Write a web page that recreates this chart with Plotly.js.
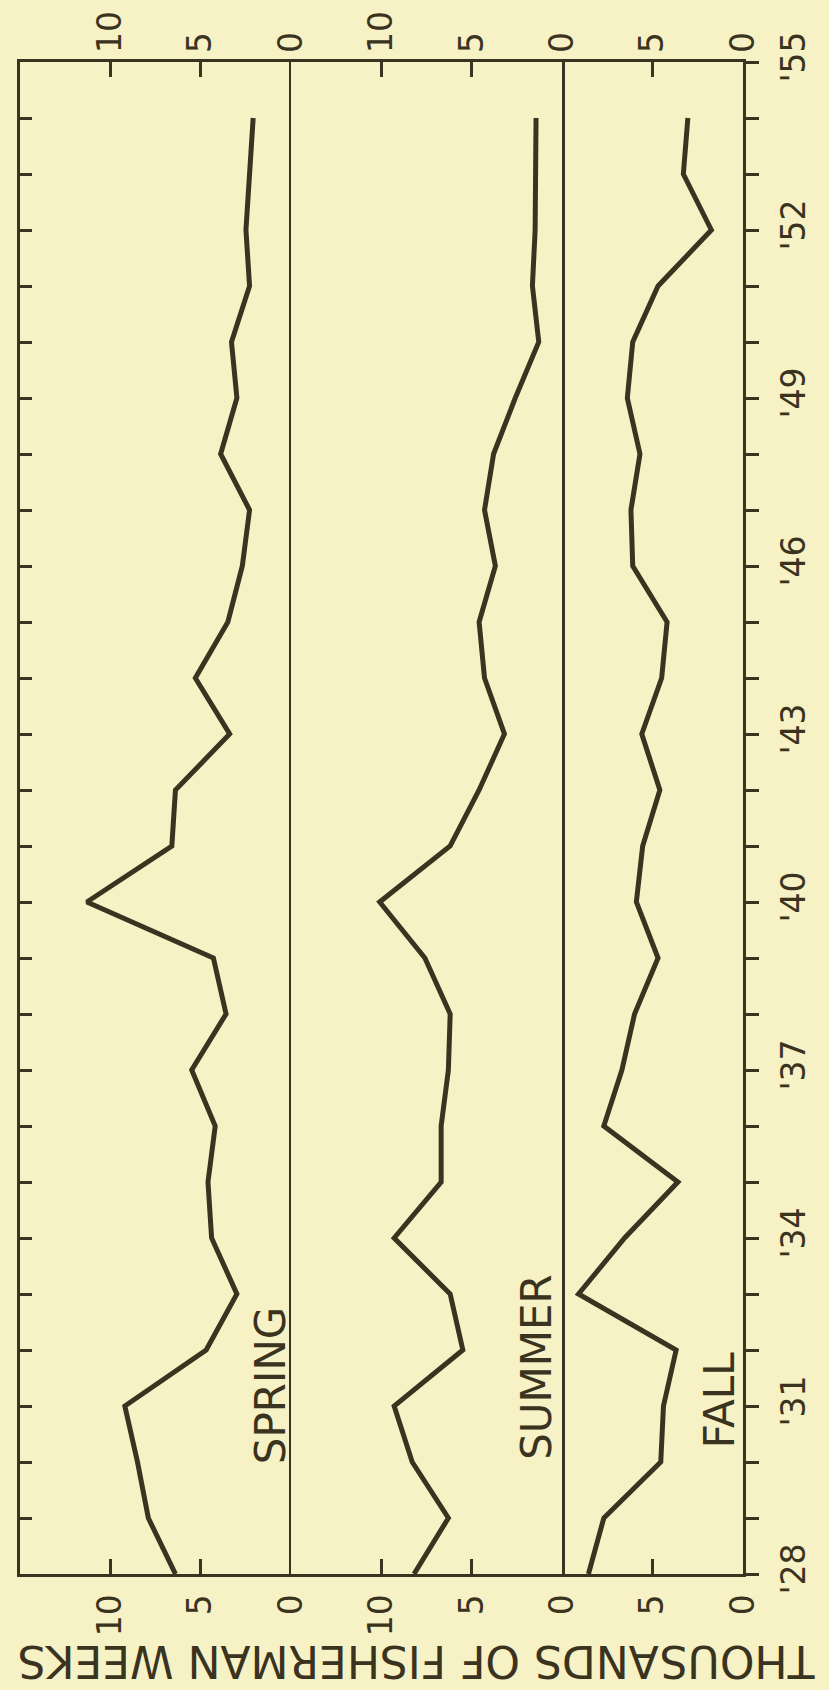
<!DOCTYPE html>
<html>
<head>
<meta charset="utf-8">
<script src="https://cdn.plot.ly/plotly-3.0.1.min.js"></script>
<style>
  html, body { margin: 0; padding: 0; background: #f7f2c6; }
  #chart { width: 829px; height: 1690px; }
</style>
</head>
<body>
<div id="chart"></div>
<script>
// ---- data (thousands of fisherman weeks) ----
const years = [1928, 1929, 1930, 1931, 1932, 1933, 1934, 1935, 1936, 1937,
               1938, 1939, 1940, 1941, 1942, 1943, 1944, 1945, 1946, 1947,
               1948, 1949, 1950, 1951, 1952, 1953, 1954];
const spring = [6.4, 7.9, 8.5, 9.2, 4.7, 3.0, 4.4, 4.6, 4.2, 5.5,
                3.6, 4.3, 11.3, 6.6, 6.4, 3.4, 5.3, 3.5, 2.7, 2.3,
                3.9, 3.0, 3.3, 2.3, 2.5, 2.3, 2.1];
const summer = [8.2, 6.3, 8.3, 9.3, 5.5, 6.2, 9.3, 6.7, 6.7, 6.3,
                6.2, 7.6, 10.1, 6.2, 4.6, 3.2, 4.3, 4.6, 3.7, 4.3,
                3.8, 2.6, 1.3, 1.65, 1.5, 1.5, 1.45];
const fall = [8.55, 7.7, 4.55, 4.4, 3.7, 9.1, 6.55, 3.6, 7.7, 6.7,
              6.0, 4.7, 5.9, 5.55, 4.6, 5.6, 4.5, 4.2, 6.1, 6.2,
              5.7, 6.4, 6.1, 4.7, 1.75, 3.3, 3.05];
const seasonNames = ["SPRING", "SUMMER", "FALL"];
const yearTickVals = [1928, 1931, 1934, 1937, 1940, 1943, 1946, 1949, 1952, 1955];
const yearTickText = ["'28", "'31", "'34", "'37", "'40", "'43", "'46", "'49", "'52", "'55"];
const valTickVals = [0, 5, 10];
const valTickText = ["0", "5", "10"];
const fallTickVals = [0, 5];
const fallTickText = ["0", "5"];
const axisTitle = "THOUSANDS OF FISHERMAN WEEKS";

// ---- styling ----
const INK = "#3a3320";
const BG = "#f7f2c6";
const FONT = "DejaVu Sans, sans-serif";
const LW = 5;

function line(x, xa, ya) {
  return { type: "scatter", mode: "lines", x: x, y: years, xaxis: xa, yaxis: ya,
           line: { color: INK, width: LW }, hoverinfo: "skip", showlegend: false };
}
function dummy(xa, ya) {
  return { type: "scatter", mode: "markers", x: [null], y: [null], xaxis: xa, yaxis: ya,
           hoverinfo: "skip", showlegend: false };
}

const data = [
  line(spring, "x", "y"),
  line(summer, "x2", "y2"),
  line(fall, "x3", "y3"),
  dummy("x4", "y"),
  dummy("x5", "y2"),
  dummy("x6", "y3")
];

const tickFont = { family: FONT, size: 33, color: INK };

// value axes: labels at the bottom, inside tick marks on bottom and (mirrored) top
function valAxis(domain, range, tv, tt, anchor) {
  return { domain: domain, range: range, anchor: anchor, side: "bottom",
           tickmode: "array", tickvals: tv, ticktext: tt, tickangle: -90,
           ticks: "inside", ticklen: 15, tickwidth: 3, tickcolor: INK,
           showline: true, linewidth: 3, linecolor: INK, mirror: "ticks",
           showgrid: false, zeroline: false, tickfont: tickFont,
           ticklabelstandoff: 4, fixedrange: true };
}
// top labels (overlay copies of the value axes)
function topAxis(over, range, tv, tt, anchor) {
  return { overlaying: over, range: range, anchor: anchor, side: "top",
           tickmode: "array", tickvals: tv, ticktext: tt, tickangle: -90,
           ticks: "", showline: false, showgrid: false, zeroline: false,
           tickfont: tickFont, ticklabelstandoff: 8, fixedrange: true };
}
const yRange = [1928, 1955];

const d1 = 15 / 40, d2 = 30 / 40;

const layout = {
  width: 829, height: 1690,
  paper_bgcolor: BG, plot_bgcolor: BG,
  margin: { l: 20, r: 86, t: 62, b: 116 },
  showlegend: false,
  font: { family: FONT, color: INK },
  xaxis:  valAxis([0, d1], [15, 0], valTickVals, valTickText, "y"),
  xaxis2: valAxis([d1, d2], [15, 0], valTickVals, valTickText, "y2"),
  xaxis3: valAxis([d2, 1], [10, 0], fallTickVals, fallTickText, "y3"),
  xaxis4: topAxis("x", [15, 0], valTickVals, valTickText, "y"),
  xaxis5: topAxis("x2", [15, 0], valTickVals, valTickText, "y2"),
  xaxis6: topAxis("x3", [10, 0], fallTickVals, fallTickText, "y3"),
  yaxis: { domain: [0, 1], range: yRange, anchor: "x", side: "left",
           tickmode: "linear", tick0: 1928, dtick: 1, ticks: "inside",
           ticklen: 12, tickwidth: 3, tickcolor: INK, showticklabels: false,
           showline: true, linewidth: 3, linecolor: INK, mirror: false,
           showgrid: false, zeroline: false, fixedrange: true },
  yaxis2: { matches: "y", range: yRange, anchor: "x2", ticks: "", showticklabels: false,
            showline: true, linewidth: 2.5, linecolor: INK, mirror: true,
            showgrid: false, zeroline: false, fixedrange: true },
  yaxis3: { matches: "y", range: yRange, anchor: "x3", side: "right",
            tickmode: "array", tickvals: yearTickVals, ticktext: yearTickText,
            tickangle: -90, ticks: "outside", ticklen: 13, tickwidth: 3, tickcolor: INK,
            minor: { tickmode: "linear", tick0: 1928, dtick: 1, ticks: "outside",
                     ticklen: 13, tickwidth: 3, tickcolor: INK, showgrid: false },
            showline: true, linewidth: 3, linecolor: INK, mirror: false,
            showgrid: false, zeroline: false, tickfont: tickFont,
            ticklabelstandoff: 6, fixedrange: true },
  annotations: [
    { text: seasonNames[0], xref: "paper", yref: "paper", x: 0.346, y: 0.125,
      xanchor: "center", yanchor: "middle", textangle: -90, showarrow: false,
      font: { family: FONT, size: 42, color: INK } },
    { text: seasonNames[1], xref: "paper", yref: "paper", x: 0.715, y: 0.137,
      xanchor: "center", yanchor: "middle", textangle: -90, showarrow: false,
      font: { family: FONT, size: 42, color: INK } },
    { text: seasonNames[2], xref: "paper", yref: "paper", x: 0.967, y: 0.115,
      xanchor: "center", yanchor: "middle", textangle: -90, showarrow: false,
      font: { family: FONT, size: 42, color: INK } },
    { text: axisTitle, xref: "paper", yref: "paper", x: 0.548, y: -0.058,
      xanchor: "center", yanchor: "middle", textangle: 180, showarrow: false,
      font: { family: FONT, size: 44, color: INK } }
  ]
};

Plotly.newPlot("chart", data, layout, { displayModeBar: false, staticPlot: true });
</script>
</body>
</html>
